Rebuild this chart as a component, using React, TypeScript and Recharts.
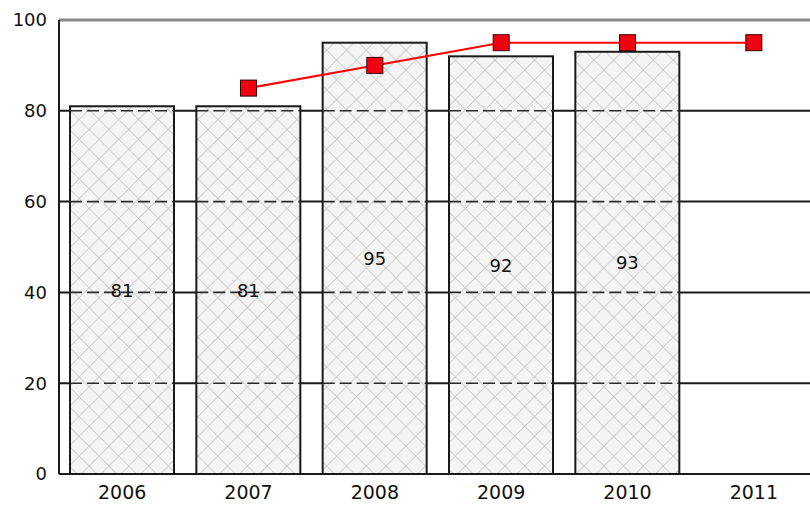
import { ComposedChart, Bar, Line, XAxis, YAxis, CartesianGrid, ReferenceLine, LabelList } from 'recharts';

const years = ['2006', '2007', '2008', '2009', '2010', '2011'];
const actual = [81, 81, 95, 92, 93, null];
const target = [null, 85, 90, 95, 95, 95];
const yTicks = [0, 20, 40, 60, 80, 100];
const gridValues = [20, 40, 60, 80];

const data = years.map((year, i) => ({ year, actual: actual[i], target: target[i] }));

const font = '"DejaVu Sans", Verdana, sans-serif';

// bar with hatch fill; grid lines show through as dashes
const HatchBar = (props: any) => {
  const { x, y, width, height, payload } = props;
  const v = payload?.actual;
  if (v == null || !height) return null;
  return (
    <g>
      <rect x={x} y={y} width={width} height={height} fill="url(#hatch)" stroke="#1a1a1a" strokeWidth={2} />
      {gridValues
        .filter(g => g < v)
        .map(g => {
          const yy = y + height * (1 - g / v);
          return (
            <line key={g} x1={x} x2={x + width} y1={yy} y2={yy} stroke="#2a2a2a" strokeWidth={1.6} strokeDasharray="12 5" />
          );
        })}
    </g>
  );
};

const SquareDot = (props: any) => {
  const { cx, cy, index } = props;
  if (cx == null || cy == null) return <g key={index} />;
  return <rect key={index} x={cx - 8} y={cy - 8} width={16} height={16} fill="#f00010" stroke="#3a0000" strokeWidth={1} />;
};

export default function App() {
  return (
    <div style={{ width: 810, height: 509, overflow: 'hidden', background: '#fff' }}>
      <style>{`body{margin:0;overflow:hidden}`}</style>
      <ComposedChart
        width={830}
        height={509}
        data={data}
        margin={{ top: 20, right: 13, left: 0, bottom: 0 }}
        barCategoryGap={11}
      >
        <defs>
          <pattern id="hatch" patternUnits="userSpaceOnUse" width={14} height={14} patternTransform="rotate(45)">
            <rect width={14} height={14} fill="#f4f4f4" />
            <line x1={0} y1={0} x2={0} y2={14} stroke="#bdbdbd" strokeWidth={1.3} />
            <line x1={0} y1={0} x2={14} y2={0} stroke="#bdbdbd" strokeWidth={1.3} />
          </pattern>
        </defs>
        <CartesianGrid vertical={false} stroke="#1a1a1a" strokeWidth={2} />
        <XAxis
          dataKey="year"
          height={35}
          tickLine={false}
          tickSize={0}
          tickMargin={12}
          axisLine={{ stroke: '#1a1a1a', strokeWidth: 2 }}
          tick={{ fill: '#111', fontSize: 19, fontFamily: font }}
        />
        <YAxis
          width={59}
          domain={[0, 100]}
          ticks={yTicks}
          tickLine={false}
          tickSize={0}
          tickMargin={12}
          axisLine={{ stroke: '#1a1a1a', strokeWidth: 2 }}
          tick={{ fill: '#111', fontSize: 18, fontFamily: font }}
        />
        <Bar dataKey="actual" shape={<HatchBar />} isAnimationActive={false}>
          <LabelList dataKey="actual" position="center" fill="#111" fontSize={18} fontFamily={font} />
        </Bar>
        <ReferenceLine y={100} stroke="#888" strokeWidth={3} />
        <Line
          dataKey="target"
          stroke="#ff0000"
          strokeWidth={2}
          connectNulls
          dot={<SquareDot />}
          activeDot={false}
          isAnimationActive={false}
        />
      </ComposedChart>
    </div>
  );
}
